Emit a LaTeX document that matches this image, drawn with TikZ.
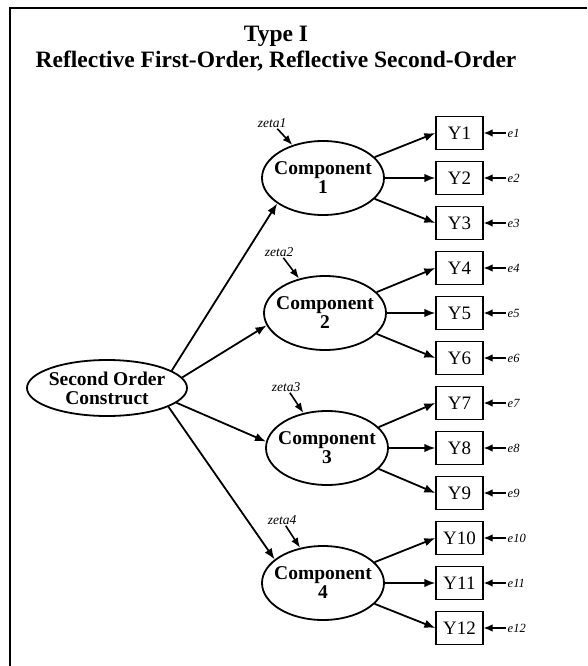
\documentclass[tikz,border=0pt]{standalone}
\usepackage{fontspec}
\setmainfont{Liberation Serif}
\usetikzlibrary{shapes.geometric,arrows.meta}
\begin{document}
\begin{tikzpicture}[x=1pt,y=-1pt,
  latent/.style={ellipse,draw,line width=1.8pt,inner sep=0pt,
                 minimum width=122pt,minimum height=74pt},
  ltext/.style={font=\fontsize{19.5}{19}\selectfont\bfseries,align=center},
  ind/.style={rectangle,draw,line width=1.3pt,minimum width=47pt,minimum height=33pt,
              inner sep=0pt,font=\fontsize{19}{19}\selectfont},
  load/.style={line width=1.8pt,-{Latex[length=11pt,width=8.5pt]}},
  errlab/.style={font=\fontsize{12.5}{12.5}\selectfont\itshape,inner sep=1.5pt,anchor=west},
  errarr/.style={line width=1.3pt,-{Latex[length=9pt,width=7.5pt]}},
  distlab/.style={font=\fontsize{13.5}{13.5}\selectfont\itshape,inner sep=1pt},
  distarr/.style={line width=1.6pt,-{Latex[length=10pt,width=7.5pt]}},
]
\useasboundingbox (0,0) rectangle (587,666);
\fill[white] (0,0) rectangle (587,666);
% frame (left and top edges)
\draw[line width=1.8pt] (10,666) -- (10,8) -- (587,8);

% title
\node[font=\fontsize{23.5}{26}\selectfont\bfseries,align=center] (title) at (276,49)
  {Type I\\Reflective First-Order, Reflective Second-Order};

% second-order construct
\node[latent,minimum width=160pt,minimum height=56pt,
      label={[ltext]center:Second Order\\Construct}] (soc) at (107,388) {};

% first-order components
\node[latent,label={[ltext]center:Component\\1}] (c1) at (323,178) {};
\node[latent,label={[ltext]center:Component\\2}] (c2) at (325,313) {};
\node[latent,label={[ltext]center:Component\\3}] (c3) at (327,448) {};
\node[latent,label={[ltext]center:Component\\4}] (c4) at (323,583) {};

% disturbances
\node[distlab] (z1) at (272,123) {zeta1};
\node[distlab] (z2) at (279,252) {zeta2};
\node[distlab] (z3) at (286,387) {zeta3};
\node[distlab] (z4) at (282,520) {zeta4};
\draw[distarr] (z1) -- (c1);
\draw[distarr] (z2) -- (c2);
\draw[distarr] (z3) -- (c3);
\draw[distarr] (z4) -- (c4);

% indicators with their error terms
\foreach \i in {1,...,12} {
  \node[ind] (y\i) at (459.5,{88+45*\i}) {Y\i};
  \node[errlab] (e\i) at (506,{88+45*\i}) {e\i};
  \draw[errarr] (e\i.west) -- (y\i.east);
}

% second-order loadings
\draw[load] (soc.15)  -- (c1.209);
\draw[load] (soc.8)   -- (c2.192);
\draw[load] (soc.-12) -- (c3.174);
\draw[load] (soc.-17) -- (c4.154);

% first-order loadings
\draw[load] (c1.22) -- (y1.west);
\draw[load] (c1.east) -- (y2.west);
\draw[load] (c1.-22) -- (y3.west);
\draw[load] (c2.22) -- (y4.west);
\draw[load] (c2.east) -- (y5.west);
\draw[load] (c2.-22) -- (y6.west);
\draw[load] (c3.22) -- (y7.west);
\draw[load] (c3.east) -- (y8.west);
\draw[load] (c3.-22) -- (y9.west);
\draw[load] (c4.22) -- (y10.west);
\draw[load] (c4.east) -- (y11.west);
\draw[load] (c4.-22) -- (y12.west);
\end{tikzpicture}
\end{document}
